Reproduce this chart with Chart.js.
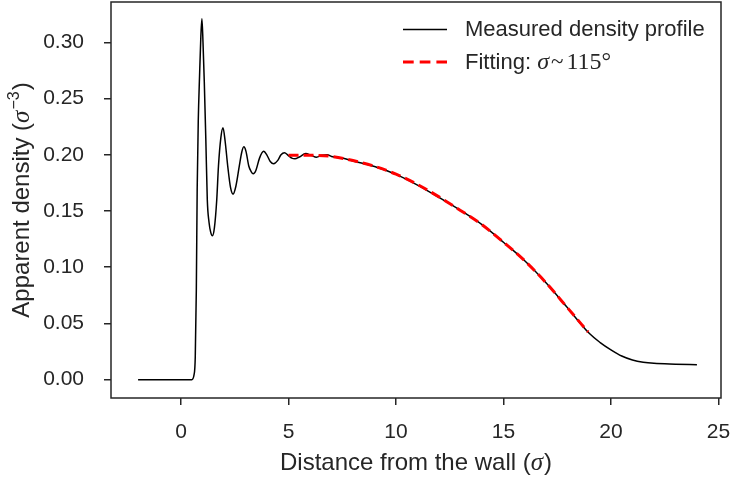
<!DOCTYPE html>
<html>
<head>
<meta charset="utf-8">
<script src="https://cdn.jsdelivr.net/npm/chart.js@4.4.1/dist/chart.umd.min.js"></script>
<style>
  html, body { margin: 0; padding: 0; background: #fff; }
  #c { display: block; }
</style>
</head>
<body>
<canvas id="c" width="730" height="477"></canvas>
<script>
// measured density profile (distance in sigma, density in sigma^-3)
const xMeasured = [-2, -1, 0, 0.5, 0.6, 0.66, 0.71, 0.75, 0.8, 0.86, 0.92, 0.97, 1.02, 1.08, 1.15, 1.22, 1.3, 1.38, 1.46,
  1.55, 1.66, 1.74, 1.85, 1.95, 2.05, 2.17, 2.3, 2.42, 2.55, 2.71, 2.82, 2.92, 3.02, 3.15, 3.26, 3.36, 3.48, 3.65, 3.84,
  4.0, 4.15, 4.31, 4.5, 4.65, 4.81, 4.98, 5.15, 5.3, 5.5, 5.8, 6.05, 6.3, 6.55, 6.8, 7.0, 7.5, 8, 9, 10, 11, 12, 13, 14,
  15, 16, 17, 18, 19, 19.5, 20, 20.5, 21, 21.5, 22, 23, 24];
const yMeasured = [0, 0, 0, 0, 0.004, 0.02, 0.08, 0.17, 0.23, 0.27, 0.305, 0.321, 0.30, 0.265, 0.215, 0.16, 0.14, 0.131, 0.128,
  0.135, 0.16, 0.19, 0.215, 0.224, 0.212, 0.19, 0.171, 0.165, 0.172, 0.19, 0.202, 0.207, 0.203, 0.19, 0.185, 0.183, 0.186, 0.197, 0.203,
  0.1995, 0.194, 0.192, 0.195, 0.2, 0.2018, 0.1995, 0.197, 0.1964, 0.198, 0.201, 0.1995, 0.1978, 0.1995, 0.2, 0.1985, 0.197, 0.1945, 0.1895, 0.1825, 0.173, 0.162, 0.1505, 0.1378,
  0.1222, 0.1055, 0.0857, 0.0634, 0.041, 0.033, 0.0265, 0.021, 0.0175, 0.0155, 0.0145, 0.0138, 0.0133];

// fitted profile
const xFit = [5, 6, 7, 8, 9, 10, 11, 12, 13, 14, 15, 16, 17, 18, 18.94];
const yFit = [0.1995, 0.1995, 0.1985, 0.1948, 0.1897, 0.1827, 0.1735, 0.1625, 0.1505, 0.1378, 0.1222, 0.1055, 0.0857, 0.0634, 0.0423];

const xTicks = [0, 5, 10, 15, 20, 25];
const yTicks = [0, 0.05, 0.10, 0.15, 0.20, 0.25, 0.30];

const INK = '#262626';
const SANS = '"Liberation Sans", Arial, sans-serif';
const SERIF = '"Liberation Serif", "Times New Roman", serif';

function pts(xs, ys) { return xs.map((x, i) => ({ x, y: ys[i] })); }

// draw a row of text pieces with different fonts
function drawRuns(ctx, runs, x, y, align) {
  let total = 0;
  runs.forEach(r => { ctx.font = r.font; total += ctx.measureText(r.text).width + (r.gap || 0); });
  let cx = align === 'center' ? x - total / 2 : x;
  runs.forEach(r => {
    ctx.font = r.font;
    ctx.fillText(r.text, cx, y + (r.dy || 0));
    cx += ctx.measureText(r.text).width + (r.gap || 0);
  });
}

function noPad(s) { s.paddingTop = 0; s.paddingBottom = 0; s.paddingLeft = 0; s.paddingRight = 0; }

const decorations = {
  id: 'decorations',
  afterDraw(chart) {
    const { ctx, chartArea: a } = chart;
    ctx.save();
    // frame
    ctx.strokeStyle = INK;
    ctx.lineWidth = 1.5;
    ctx.strokeRect(a.left, a.top, a.right - a.left, a.bottom - a.top);

    ctx.fillStyle = INK;
    ctx.textBaseline = 'alphabetic';
    ctx.textAlign = 'left';

    // x title
    drawRuns(ctx, [
      { text: 'Distance from the wall (', font: `24px ${SANS}` },
      { text: 'σ', font: `italic 25px ${SERIF}`, gap: 1 },
      { text: ')', font: `24px ${SANS}` },
    ], (a.left + a.right) / 2, 470, 'center');

    // y title
    ctx.save();
    ctx.translate(28.5, (a.top + a.bottom) / 2);
    ctx.rotate(-Math.PI / 2);
    drawRuns(ctx, [
      { text: 'Apparent density (', font: `24px ${SANS}` },
      { text: 'σ', font: `italic 25px ${SERIF}`, gap: 1 },
      { text: '−3', font: `16px ${SANS}`, dy: -10, gap: 1 },
      { text: ')', font: `24px ${SANS}` },
    ], 0, 0, 'center');
    ctx.restore();

    // legend
    ctx.lineWidth = 1.5;
    ctx.strokeStyle = '#000';
    ctx.beginPath(); ctx.moveTo(403, 29.5); ctx.lineTo(447, 29.5); ctx.stroke();
    ctx.strokeStyle = '#ff0000';
    ctx.lineWidth = 3;
    ctx.setLineDash([10.7, 6]);
    ctx.beginPath(); ctx.moveTo(403, 62); ctx.lineTo(447, 62); ctx.stroke();
    ctx.setLineDash([]);

    ctx.font = `22px ${SANS}`;
    ctx.fillText('Measured density profile', 465, 36);
    drawRuns(ctx, [
      { text: 'Fitting: ', font: `22px ${SANS}` },
      { text: 'σ', font: `italic 24px ${SERIF}`, gap: 2 },
      { text: '~', font: `23px ${SERIF}`, gap: 3 },
      { text: '115°', font: `24px ${SERIF}` },
    ], 465, 68.5);
    ctx.restore();
  }
};

new Chart(document.getElementById('c'), {
  type: 'line',
  data: {
    datasets: [
      { label: 'Fitting', data: pts(xFit, yFit), borderColor: '#ff0000', borderWidth: 3,
        borderDash: [10, 5], pointRadius: 0, tension: 0.4, cubicInterpolationMode: 'monotone', fill: false },
      { label: 'Measured density profile', data: pts(xMeasured, yMeasured), borderColor: '#000', borderWidth: 1.5,
        pointRadius: 0, tension: 0.4, cubicInterpolationMode: 'monotone', fill: false },
    ]
  },
  options: {
    responsive: false,
    devicePixelRatio: 1,
    animation: false,
    layout: { padding: { top: 2, right: 9, left: 0, bottom: 0 } },
    plugins: { legend: { display: false }, tooltip: { enabled: false } },
    scales: {
      x: {
        type: 'linear', min: -3.26, max: 25.12,
        afterBuildTicks: s => { s.ticks = xTicks.map(v => ({ value: v })); },
        afterFit: s => { s.height = 79; noPad(s); },
        ticks: { color: INK, font: { family: SANS, size: 21 }, padding: 15, maxRotation: 0,
          callback: v => String(v) },
        grid: { drawOnChartArea: false, drawTicks: true, tickLength: 7, color: INK, lineWidth: 1.5 },
        border: { display: false },
      },
      y: {
        type: 'linear', min: -0.0163, max: 0.3358,
        afterBuildTicks: s => { s.ticks = yTicks.map(v => ({ value: v })); },
        afterFit: s => { s.width = 111; noPad(s); },
        ticks: { color: INK, font: { family: SANS, size: 21 }, padding: 20,
          callback: v => Number(v).toFixed(2) },
        grid: { drawOnChartArea: false, drawTicks: true, tickLength: 7, color: INK, lineWidth: 1.5 },
        border: { display: false },
      }
    }
  },
  plugins: [decorations]
});
</script>
</body>
</html>
